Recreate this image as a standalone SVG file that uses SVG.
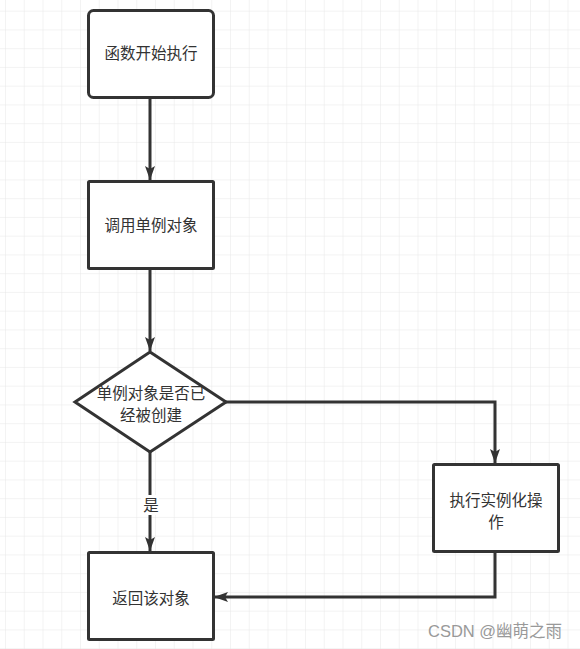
<svg xmlns="http://www.w3.org/2000/svg" width="580" height="649" viewBox="0 0 580 649">
<defs>
<pattern id="grid" x="5" y="10.7" width="18.75" height="18.75" patternUnits="userSpaceOnUse">
<path d="M0 0H18.75M0 0V18.75" fill="none" stroke="#e8e8e8" stroke-width="1"/>
</pattern>
<marker id="arrb" viewBox="0 0 14 10" refX="14" refY="5" markerWidth="14" markerHeight="11" markerUnits="userSpaceOnUse" orient="auto">
<path d="M0 0L14 5L0 10L3 5Z" fill="#333"/>
</marker>
</defs>
<style>
.node{fill:#fff;stroke:#333;stroke-width:3}
.t{font-family:"Microsoft YaHei","Noto Sans CJK SC",sans-serif;font-size:15.5px;fill:#333;text-anchor:middle}
.e{fill:none;stroke:#333;stroke-width:3}
.wm{font-family:"Liberation Sans","Noto Sans CJK SC",sans-serif;font-size:16.5px;fill:#999}
</style>
<rect width="580" height="649" fill="#fff"/>
<rect width="580" height="649" fill="url(#grid)"/>
<g id="connectors">
<path class="e" d="M150 97V180" marker-end="url(#arrb)"/>
<path class="e" d="M150 269V351" marker-end="url(#arrb)"/>
<path class="e" d="M226 402H495V463" marker-end="url(#arrb)"/>
<path class="e" d="M150 452V551" marker-end="url(#arrb)"/>
<path class="e" d="M495 552V597H214" marker-end="url(#arrb)"/>
<rect x="141" y="495" width="18" height="20" fill="#fff"/>
<text class="t" x="151" y="511">是</text>
</g>
<g id="n1">
<rect class="node" x="88.5" y="10.5" width="125" height="87" rx="5"/>
<text class="t" x="151" y="59">函数开始执行</text>
</g>
<g id="n2">
<rect class="node" x="88.5" y="181.5" width="125" height="87" rx="1"/>
<text class="t" x="151" y="231">调用单例对象</text>
</g>
<g id="n3">
<path class="node" d="M150 352L226 402L150 452L75 402Z"/>
<text class="t" x="151" y="399">单例对象是否已</text>
<text class="t" x="151" y="421">经被创建</text>
</g>
<g id="n4">
<rect class="node" x="433.5" y="464.5" width="125" height="87" rx="1"/>
<text class="t" x="496" y="506">执行实例化操</text>
<text class="t" x="496" y="528">作</text>
</g>
<g id="n5">
<rect class="node" x="88.5" y="552.5" width="125" height="87" rx="1"/>
<text class="t" x="151" y="604">返回该对象</text>
</g>
<text class="wm" x="428" y="637">CSDN @幽萌之雨</text>
</svg>
